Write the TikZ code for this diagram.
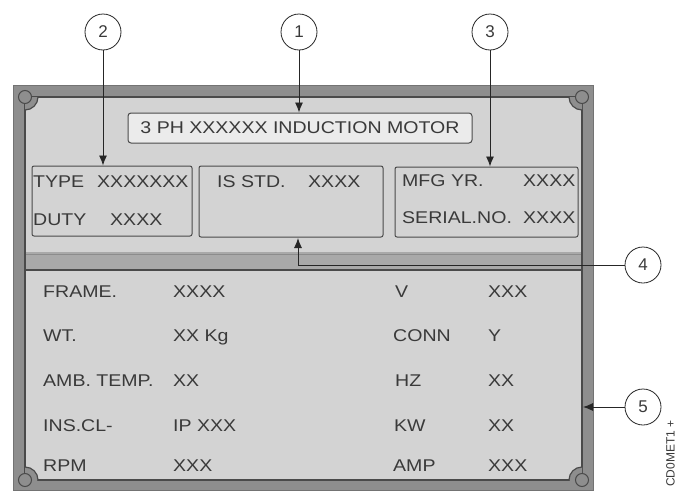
\documentclass[tikz,border=0pt]{standalone}
\usepackage{fontspec}
\setmainfont{Liberation Sans}
\usepackage{graphicx}
\usetikzlibrary{arrows.meta,calc}
\definecolor{framegray}{HTML}{8E8E8E}
\definecolor{plategray}{HTML}{D3D3D3}
\definecolor{edgegray}{HTML}{4A4A4A}
\definecolor{bandgray}{HTML}{A9A9A9}
\definecolor{txtgray}{HTML}{3A3A3A}
\definecolor{titlefill}{HTML}{EBEBEB}
\newcommand{\W}[1]{\scalebox{1.15}[1]{#1}}
\begin{document}
\begin{tikzpicture}[x=1pt,y=-1pt,
  lbl/.style={anchor=base west, inner sep=0pt, text=txtgray, font=\fontsize{17}{20}\selectfont},
  panelbox/.style={draw=edgegray, line width=1pt, fill=plategray, rounded corners=2pt, inner sep=0pt},
  callout/.style={circle, draw=black!85, line width=0.8pt, fill=white, minimum size=36pt, inner sep=0pt, text=txtgray, font=\fontsize{17}{20}\selectfont},
  arr/.style={draw=black!85, line width=0.9pt, -{Latex[length=10pt,width=8pt]}}
]
\useasboundingbox (0,0) rectangle (681,493);
% frame
\fill[framegray] (13,85) rectangle (593,490);
\draw[black!55, line width=1pt] (13,85) rectangle (593,490);
% plate
\fill[plategray] (25,97) rectangle (582,480);
\fill[bandgray] (25,252) rectangle (582,270);
\draw[black!45, line width=1pt] (25,254) -- (582,254);
\draw[edgegray, line width=1.2pt] (25,270) -- (582,270);
\draw[edgegray, line width=1.2pt] (25,97) rectangle (582,480);
\begin{scope}
  \clip (25,97) rectangle (582,480);
  \foreach \p in {(25,97),(582,97),(582,480),(25,480)}
    \draw[edgegray, line width=1.2pt, fill=framegray] \p circle[radius=13];
\end{scope}
\foreach \p in {(25,97),(582,97),(582,480),(25,480)}
  \draw[edgegray, line width=1pt, fill=framegray] \p circle[radius=6.5];
% title
\node[draw=edgegray, line width=1pt, fill=titlefill, rounded corners=3pt, minimum width=344pt, minimum height=30pt, inner sep=0pt, text=txtgray, font=\fontsize{17}{20}\selectfont] (title) at (300,128) {\W{3 PH XXXXXX INDUCTION MOTOR}};
% boxes
\node[panelbox, minimum width=160pt, minimum height=70pt] (box2) at (112,201) {};
\node[panelbox, minimum width=184pt, minimum height=71pt] (boxm) at (291,201.5) {};
\node[panelbox, minimum width=183pt, minimum height=70pt] (box3) at (486.5,202) {};
\node[lbl] (tA) at (33,187) {\W{TYPE}};
\node[lbl] (tB) at (97,187) {\W{XXXXXXX}};
\node[lbl] (tC) at (33,225) {\W{DUTY}};
\node[lbl] (tD) at (110,225) {\W{XXXX}};
\node[lbl] (tE) at (217,187) {\W{IS STD.}};
\node[lbl] (tF) at (308,187) {\W{XXXX}};
\node[lbl] (tG) at (402,186) {\W{MFG YR.}};
\node[lbl] (tH) at (523,186) {\W{XXXX}};
\node[lbl] (tI) at (402,223) {\W{SERIAL.NO.}};
\node[lbl] (tJ) at (523,223) {\W{XXXX}};
% lower rows
\node[lbl] (r1a) at (43,297) {\W{FRAME.}};
\node[lbl] (r1b) at (173,297) {\W{XXXX}};
\node[lbl] (r1c) at (395,297) {\W{V}};
\node[lbl] (r1d) at (488,297) {\W{XXX}};
\node[lbl] (r2a) at (43,341) {\W{WT.}};
\node[lbl] (r2b) at (173,341) {\W{XX Kg}};
\node[lbl] (r2c) at (393,341) {\W{CONN}};
\node[lbl] (r2d) at (488,341) {\W{Y}};
\node[lbl] (r3a) at (43,386) {\W{AMB. TEMP.}};
\node[lbl] (r3b) at (173,386) {\W{XX}};
\node[lbl] (r3c) at (395,386) {\W{HZ}};
\node[lbl] (r3d) at (488,386) {\W{XX}};
\node[lbl] (r4a) at (43,431) {\W{INS.CL-}};
\node[lbl] (r4b) at (173,431) {\W{IP XXX}};
\node[lbl] (r4c) at (394,431) {\W{KW}};
\node[lbl] (r4d) at (488,431) {\W{XX}};
\node[lbl] (r5a) at (43,471) {\W{RPM}};
\node[lbl] (r5b) at (173,471) {\W{XXX}};
\node[lbl] (r5c) at (393,471) {\W{AMP}};
\node[lbl] (r5d) at (488,471) {\W{XXX}};
% callouts
\node[callout] (c1) at (299,32) {1};
\node[callout] (c2) at (103,32) {2};
\node[callout] (c3) at (490,32) {3};
\node[callout] (c4) at (643,265) {4};
\node[callout] (c5) at (643,407) {5};
\coordinate (a4) at (298,238);
\coordinate (a5) at (583,407);
\draw[arr] (c1) -- (c1 |- title.north);
\draw[arr] (c2) -- (c2 |- box2.north);
\draw[arr] (c3) -- (c3 |- box3.north);
\draw[arr] (c4) -| (a4);
\draw[arr] (c5) -- (a5);
\node[rotate=90, anchor=north west, inner sep=0pt, text=txtgray, font=\fontsize{12}{13}\selectfont] (code) at (666,487) {CD0MET1 +};
\end{tikzpicture}
\end{document}
